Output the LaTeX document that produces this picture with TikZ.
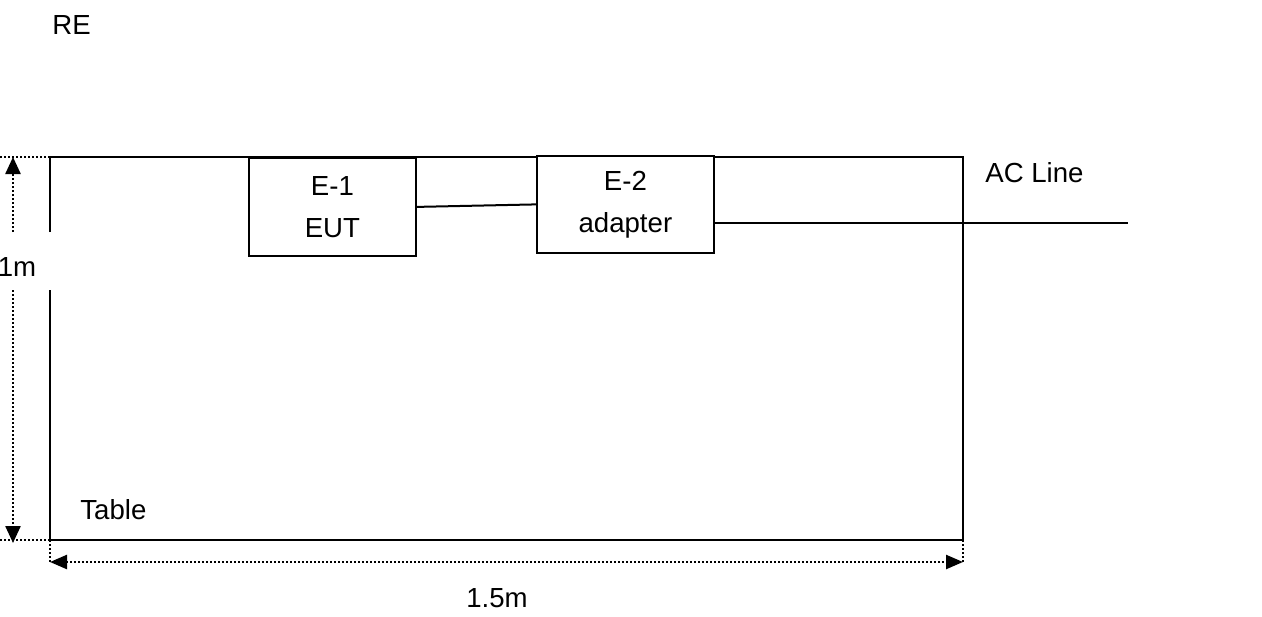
\documentclass[tikz,border=0pt]{standalone}
\usepackage{fontspec}
\setmainfont{Liberation Sans}
\usetikzlibrary{arrows.meta,positioning}
\newcommand{\labelfont}{\fontsize{13.8}{21}\selectfont}
\tikzset{
unitbox/.style={
  draw,
  line width=0.9pt,
  fill=white,
  align=center,
  inner sep=0pt,
  font=\labelfont
},
plainlabel/.style={
  inner sep=0pt,
  font=\labelfont
},
cable/.style={
  line width=1pt
},
dimline/.style={
  line width=1.2pt,
  dash pattern=on 1pt off 1pt
},
dimarrow/.style={
  dimline,
  -{Triangle[length=8.5pt,width=7.5pt]}
},
dimboth/.style={
  dimline,
  {Triangle[length=8.5pt,width=7pt]}-{Triangle[length=8.5pt,width=7pt]}
}
}
\begin{document}
\begin{tikzpicture}[x=0.5pt, y=-0.5pt]
  \useasboundingbox (0,0) rectangle (1262,616);

  % Table outline (open on the left beside the 1m label)
  \coordinate (tl) at (50,157);
  \coordinate (tr) at (963,157);
  \coordinate (bl) at (50,540);
  \coordinate (br) at (963,540);
  \draw[cable] (50,232) -- (tl) -- (tr) -- (br) -- (bl) -- (50,290);

  % Units on the table
  \node[unitbox, minimum width=83.5pt, minimum height=49pt, anchor=north west] (eut) at (248,157) {E-1\\EUT};
  \node[unitbox, minimum width=88.5pt, minimum height=48.5pt, anchor=north west] (adp) at (536,155) {E-2\\adapter};

  % Cables
  \coordinate (acend) at (1128,223);
  \draw[cable] (eut.east) -- (adp.west);
  \draw[cable] (adp.east |- acend) -- (acend);

  % Labels
  \node[plainlabel, anchor=west] (relabel) at (52,25) {RE};
  \node[plainlabel, anchor=west] (aclabel) at (985,173) {AC Line};
  \node[plainlabel, anchor=west] (tablelabel) at (80,510) {Table};
  \node[plainlabel] (hlabel) at (17,267) {1m};
  \node[plainlabel] (wlabel) at (497,598) {1.5m};

  % Height dimension
  \draw[dimline] (0,157) -- (tl);
  \draw[dimline] (0,540) -- (72,540);
  \draw[dimarrow] (13,232) -- (13,157);
  \draw[dimarrow] (13,290) -- (13,543);

  % Width dimension
  \draw[dimline] (bl) -- (50,562);
  \draw[dimline] (br) -- (963,562);
  \draw[dimboth] (50,562) -- (963,562);
\end{tikzpicture}
\end{document}
